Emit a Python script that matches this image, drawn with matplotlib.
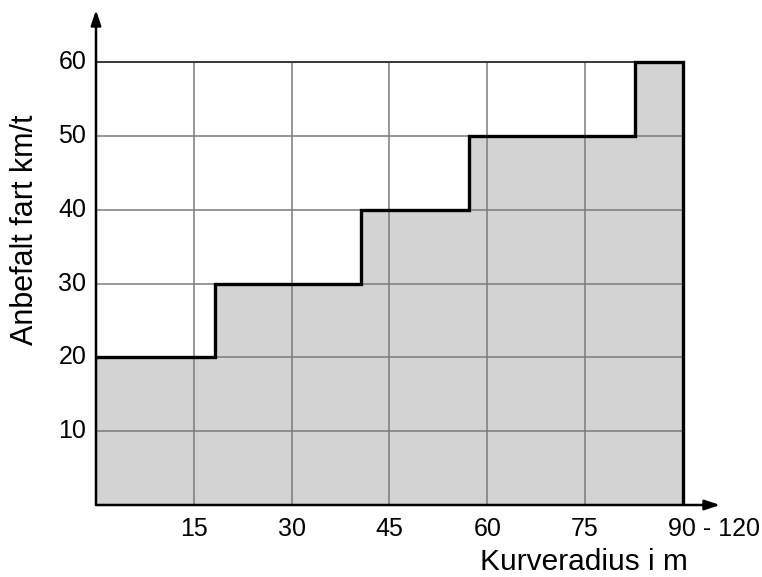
import matplotlib
matplotlib.use("Agg")
import matplotlib.pyplot as plt
import numpy as np

plt.rcParams['font.family'] = ['Liberation Sans', 'DejaVu Sans']

# Data
step_edges = [0, 18.3, 40.6, 57.2, 82.7, 90]   # curve radius where speed changes
speeds = [20, 30, 40, 50, 60]                   # recommended speed km/t
x_ticks = [15, 30, 45, 60, 75, 90]
x_ticklabels = ["15", "30", "45", "60", "75", "90 - 120"]
y_ticks = [10, 20, 30, 40, 50, 60]

W, H = 762, 577
fig = plt.figure(figsize=(W/100, H/100), dpi=100)
px_x = 97.8/15
px_y = 369/50
x0, y0 = 96, 505
xr, yt = 722, 10
ax = fig.add_axes([x0/W, 1 - y0/H, (xr - x0)/W, (y0 - yt)/H])
ax.set_xlim(0, (xr - x0)/px_x)
ax.set_ylim(0, (y0 - yt)/px_y)
for s in ax.spines.values():
    s.set_visible(False)

# step outline
xs = []
ys = []
for i, v in enumerate(speeds):
    xs += [step_edges[i], step_edges[i+1]]
    ys += [v, v]
ax.fill_between(xs, 0, ys, color='#d3d3d3', zorder=1, linewidth=0)

# grid
xmax, ymax = 90, 60
for xt in x_ticks[:-1]:
    ax.plot([xt, xt], [0, ymax], color='#7a7a7a', lw=1.1, zorder=2)
for yt_ in y_ticks:
    ax.plot([-1.3, xmax], [yt_, yt_], color='#7a7a7a', lw=1.1, zorder=2)
ax.plot([0, xmax], [ymax, ymax], color='#333333', lw=1.3, zorder=2)

# step line
ax.plot(xs + [xmax], ys + [0], color='black', lw=2.4, zorder=3, solid_joinstyle='miter')

# axes with arrows
ax.annotate('', xy=(0, (y0 - 10)/px_y), xytext=(0, 0),
            arrowprops=dict(arrowstyle='-|>,head_length=0.9,head_width=0.3', color='black', lw=1.8,
                            shrinkA=0, shrinkB=0), zorder=4)
ax.annotate('', xy=((xr - 2 - x0)/px_x, 0), xytext=(0, 0),
            arrowprops=dict(arrowstyle='-|>,head_length=0.9,head_width=0.3', color='black', lw=1.8,
                            shrinkA=0, shrinkB=0), zorder=4)

ax.set_xticks([])
ax.set_yticks([])
fs = 18
for xt, lab in zip(x_ticks, x_ticklabels):
    if lab.startswith("90"):
        ax.text((668 - x0)/px_x, -3.2, lab, ha='left', va='center', fontsize=fs)
    else:
        ax.text(xt, -3.2, lab, ha='center', va='center', fontsize=fs)
for yv in y_ticks:
    ax.text(-1.5, yv, str(yv), ha='right', va='center', fontsize=fs)

fig.text(584/W, 1 - 562/H, "Kurveradius i m", ha='center', va='center', fontsize=21.5)
fig.text(25/W, 1 - 230/H, "Anbefalt fart km/t", ha='center', va='center', fontsize=22, rotation=90)

fig.savefig("out.png", dpi=100)
